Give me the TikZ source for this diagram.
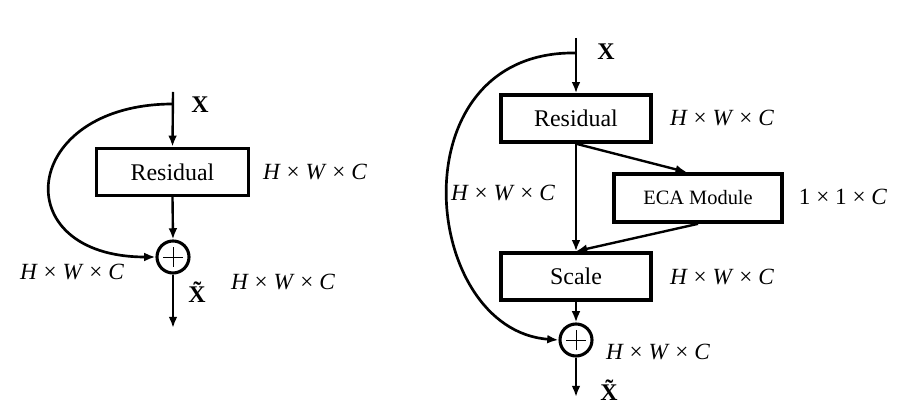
\documentclass[tikz,border=0pt]{standalone}
\usepackage{fontspec}
\setmainfont{Liberation Serif}
\usetikzlibrary{arrows.meta}

\newcommand{\dimHWC}{\textit{H}~×~\textit{W}~×~\textit{C}}

\begin{document}
\begin{tikzpicture}[
  x=0.025cm, y=-0.025cm,
  every node/.style={font=\fontsize{17}{20}\selectfont},
  blk/.style={draw, line width=2.6pt, minimum height=1.17cm,
    inner sep=0pt},
  sum/.style={draw, circle, line width=2.2pt, minimum size=0.8cm,
    inner sep=0pt,
    path picture={
      \draw[line width=0.7pt] ([xshift=-0.25cm]path picture bounding box.center)
        -- ([xshift=0.25cm]path picture bounding box.center);
      \draw[line width=0.7pt] ([yshift=-0.25cm]path picture bounding box.center)
        -- ([yshift=0.25cm]path picture bounding box.center);}},
  dimlbl/.style={font=\fontsize{16.5}{20}\selectfont},
  arr/.style={-{Latex[length=2.8mm, width=2.2mm]}, line width=1.7pt},
  skip/.style={-{Latex[length=2.8mm, width=2.2mm]}, line width=1.9pt},
]
\useasboundingbox (0,0) rectangle (906,411);

%% LEFT — plain residual block
\coordinate (inL)  at (173,92);
\coordinate (tapL) at (173,104);
\coordinate (outL) at (173,328);
\node[blk, minimum width=3.8cm] (resL) at (172.5,172) {Residual};
\node[sum] (addL) at (173,257) {};

\draw[arr] (inL) -- (resL.north);
\draw[arr] (resL.south) -- (addL.north);
\draw[arr] (addL.south) -- (outL);
\draw[skip] (tapL) .. controls (20,104) and (4,257) .. (addL.west);

\node at (200,105) {\textbf{X}};
\node at (201,292) {\textbf{X̃}};
\node[dimlbl] at (315,172) {\dimHWC};
\node[dimlbl] at (72,272)  {\dimHWC};
\node[dimlbl] at (283,282) {\dimHWC};

%% RIGHT — residual block with ECA attention
\coordinate (inR)  at (576,38);
\coordinate (tapR) at (576,53);
\coordinate (outR) at (576,397);
\node[blk, minimum width=3.75cm] (resR)   at (576,118.5) {Residual};
\node[blk, minimum width=4.2cm, minimum height=1.2cm,
      font=\fontsize{14.5}{18}\selectfont] (ecaR) at (698,198) {ECA Module};
\node[blk, minimum width=3.75cm] (scaleR) at (576,276.5) {Scale};
\node[sum] (addR) at (576,340) {};

\draw[arr] (inR) -- (resR.north);
\draw[arr] (resR.south) -- (scaleR.north);
\draw[arr] (resR.south) -- ([xshift=-8]ecaR.north);
\draw[arr] (ecaR.south) -- (scaleR.north);
\draw[arr] (scaleR.south) -- (addR.north);
\draw[arr] (addR.south) -- (outR);
\draw[skip] (tapR) .. controls (395,50) and (420,330) .. (addR.west);

\node at (606,52)  {\textbf{X}};
\node at (613,390) {\textbf{X̃}};
\node[dimlbl] at (722,118) {\dimHWC};
\node[dimlbl] at (503,193) {\dimHWC};
\node[dimlbl] at (843,197) {1~×~1~×~\textit{C}};
\node[dimlbl] at (722,277) {\dimHWC};
\node[dimlbl] at (658,352) {\dimHWC};

\end{tikzpicture}
\end{document}
